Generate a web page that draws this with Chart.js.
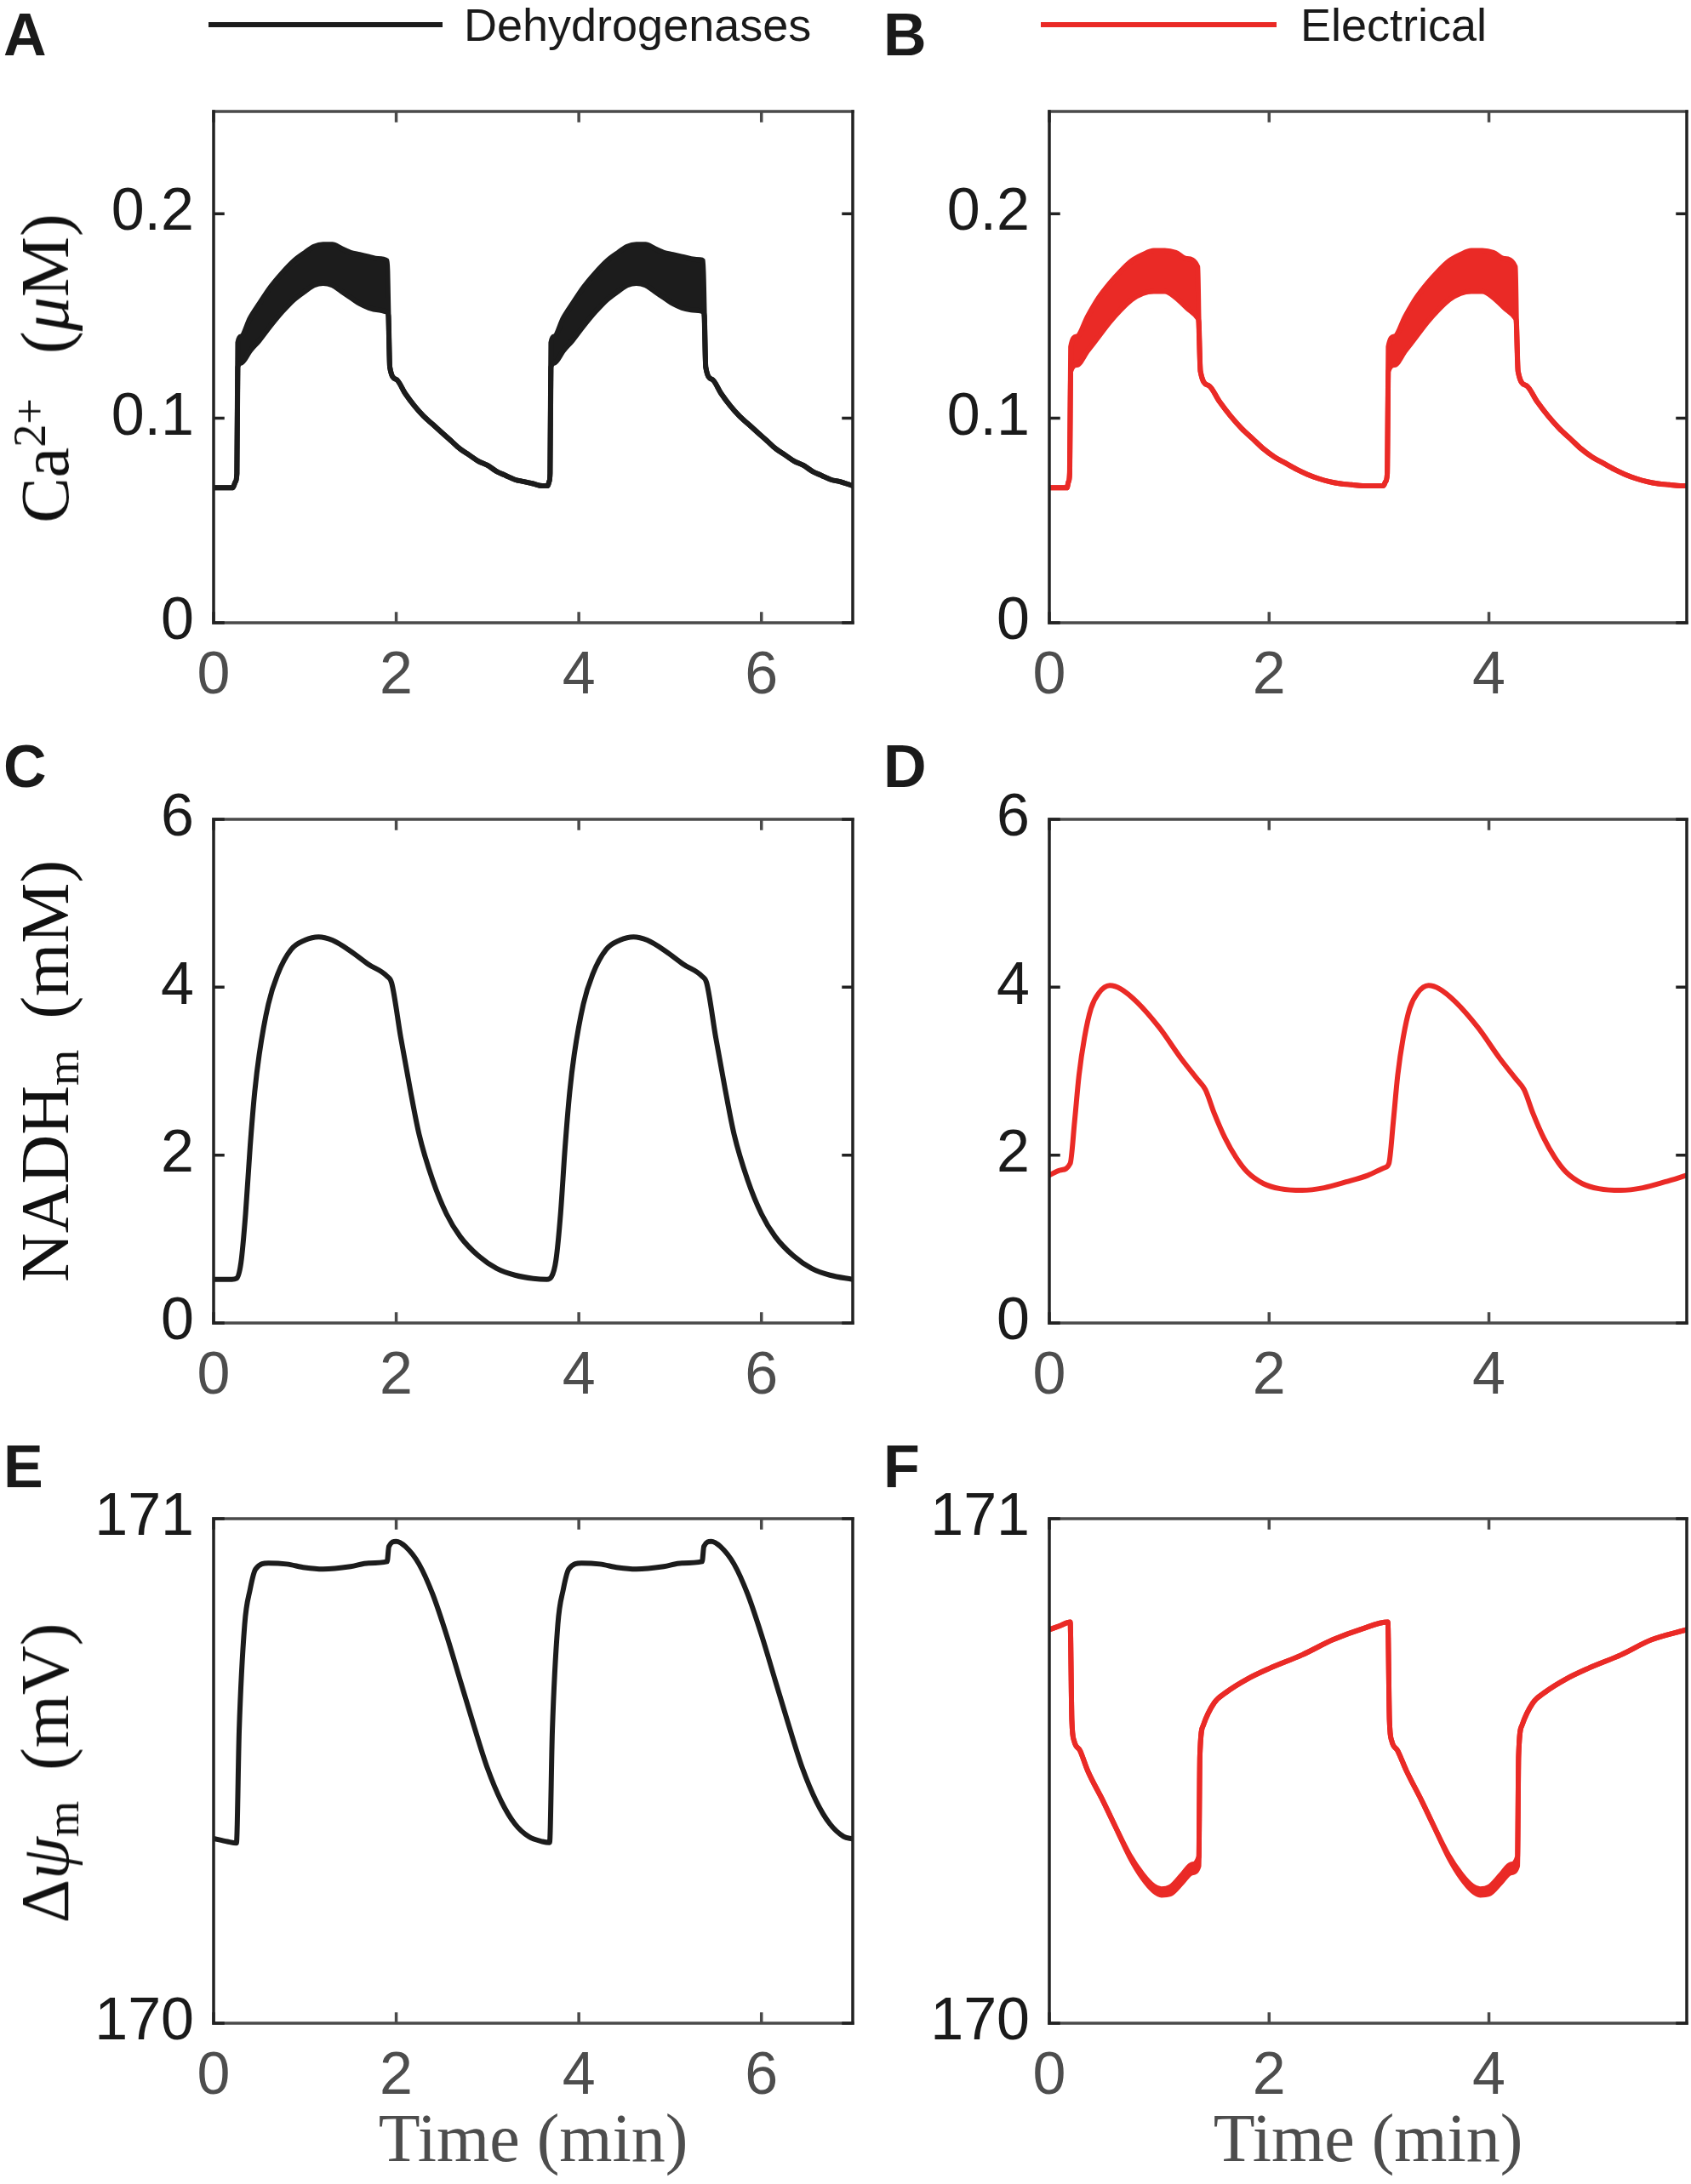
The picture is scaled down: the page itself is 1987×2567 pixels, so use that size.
<!DOCTYPE html>
<html>
<head>
<meta charset="utf-8">
<script src="https://cdn.jsdelivr.net/npm/chart.js@4.4.1/dist/chart.umd.min.js"></script>
<style>
  body { margin: 0; background: #fff; width: 1987px; height: 2567px; position: relative; overflow: hidden; }
  canvas { position: absolute; }
  .letter { position: absolute; font: bold 70px 'Liberation Sans', Arial, sans-serif; line-height: 1; color: #1a1a1a; }
  .ylab { position: absolute; font: 80px 'Liberation Serif', 'Times New Roman', serif; line-height: 1; color: #111;
          white-space: nowrap; transform: translate(-50%, -50%) rotate(-90deg); }
  .ylab .sup { font-size: 0.68em; position: relative; top: -0.5em; }
  .ylab .sub { font-size: 0.68em; position: relative; top: 0.22em; }
  .ylab .gap { display: inline-block; width: 0.45em; }
  .ylab .gap2 { display: inline-block; width: 0.65em; }
  .leg-line { position: absolute; height: 6px; }
  .leg-text { position: absolute; font: 54px 'Liberation Sans', Arial, sans-serif; line-height: 1; color: #1a1a1a; white-space: nowrap; }
</style>
</head>
<body>
<canvas id="pA"></canvas>
<canvas id="pB"></canvas>
<canvas id="pC"></canvas>
<canvas id="pD"></canvas>
<canvas id="pE"></canvas>
<canvas id="pF"></canvas>

<div class="leg-line" style="left:245px; top:26px; width:275px; background:#1c1c1c;"></div>
<div class="leg-text" style="left:545px; top:2px;">Dehydrogenases</div>
<div class="leg-line" style="left:1223px; top:26px; width:277px; background:#ea2a26;"></div>
<div class="leg-text" style="left:1528px; top:2px;">Electrical</div>

<div class="letter" style="left:4px; top:6px;">A</div>
<div class="letter" style="left:1038px; top:6px;">B</div>
<div class="letter" style="left:4px; top:866px;">C</div>
<div class="letter" style="left:1038px; top:866px;">D</div>
<div class="letter" style="left:4px; top:1689px;">E</div>
<div class="letter" style="left:1038px; top:1689px;">F</div>

<div class="ylab" style="left:53px; top:433px;">Ca<span class="sup">2+</span><span class="gap2"></span>(<i>μ</i>M)</div>
<div class="ylab" style="left:53px; top:1259px;">NADH<span class="sub">m</span><span class="gap"></span>(mM)</div>
<div class="ylab" style="left:53px; top:2084px;">Δ<i>ψ</i><span class="sub">m</span><span class="gap"></span>(mV)</div>

<script>
// ---- data (time in min) ----
const xTicksDeh = [0, 2, 4, 6];
const xTicksElec = [0, 2, 4];
const caTicks = [0, 0.1, 0.2];
const nadhTicks = [0, 2, 4, 6];
const psiTicks = [170, 171];

// Ca2+, dehydrogenases: lower / upper envelope of the fast oscillations
const caDehTime = [0, 0.1, 0.21, 0.24, 0.255, 0.265, 0.3, 0.4, 0.5, 0.62, 0.75, 0.88,
  1.0, 1.1, 1.2, 1.3, 1.4, 1.5, 1.6, 1.7, 1.8, 1.9, 1.915, 1.93,
  2.0, 2.1, 2.2, 2.3, 2.4, 2.5, 2.6, 2.7, 2.8, 2.9, 3.0, 3.1, 3.2, 3.3, 3.4, 3.5, 3.6,
  3.66, 3.675, 3.685, 3.695, 3.73, 3.83, 3.93, 4.05, 4.18, 4.31,
  4.43, 4.53, 4.63, 4.73, 4.83, 4.93, 5.03, 5.13, 5.23, 5.33, 5.36, 5.375, 5.39,
  5.46, 5.56, 5.66, 5.76, 5.86, 5.96, 6.06, 6.16, 6.26, 6.36, 6.46, 6.56, 6.66, 6.76, 6.86, 7.0];
const caDehLow = [0.066, 0.066, 0.066, 0.069, 0.073, 0.125, 0.127, 0.133, 0.138, 0.145, 0.152, 0.158,
  0.162, 0.165, 0.166, 0.165, 0.162, 0.159, 0.156, 0.154, 0.153, 0.152, 0.150, 0.125,
  0.119, 0.112, 0.106, 0.101, 0.097, 0.093, 0.089, 0.085, 0.082, 0.079, 0.077, 0.074, 0.072, 0.070, 0.069, 0.068, 0.067,
  0.067, 0.069, 0.073, 0.125, 0.127, 0.133, 0.138, 0.145, 0.152, 0.158,
  0.162, 0.165, 0.166, 0.165, 0.162, 0.159, 0.156, 0.154, 0.153, 0.1525, 0.152, 0.150, 0.125,
  0.119, 0.112, 0.106, 0.101, 0.097, 0.093, 0.089, 0.085, 0.082, 0.079, 0.077, 0.074, 0.072, 0.070, 0.069, 0.067];
const caDehHigh = [0.066, 0.066, 0.066, 0.069, 0.073, 0.137, 0.140, 0.149, 0.156, 0.164, 0.171, 0.177,
  0.181, 0.184, 0.185, 0.185, 0.183, 0.181, 0.180, 0.179, 0.178, 0.177, 0.150, 0.125,
  0.119, 0.112, 0.106, 0.101, 0.097, 0.093, 0.089, 0.085, 0.082, 0.079, 0.077, 0.074, 0.072, 0.070, 0.069, 0.068, 0.067,
  0.067, 0.069, 0.073, 0.137, 0.140, 0.149, 0.156, 0.164, 0.171, 0.177,
  0.181, 0.184, 0.185, 0.185, 0.183, 0.181, 0.180, 0.179, 0.178, 0.1775, 0.177, 0.150, 0.125,
  0.119, 0.112, 0.106, 0.101, 0.097, 0.093, 0.089, 0.085, 0.082, 0.079, 0.077, 0.074, 0.072, 0.070, 0.069, 0.067];

// Ca2+, electrical
const caElecTime = [0, 0.1, 0.16, 0.175, 0.185, 0.195,
  0.25, 0.35, 0.45, 0.55, 0.65, 0.75, 0.85, 0.95, 1.05, 1.15, 1.25, 1.35, 1.36, 1.375,
  1.45, 1.55, 1.65, 1.75, 1.85, 1.95, 2.05, 2.15, 2.25, 2.35, 2.45, 2.55, 2.65, 2.75, 2.85, 2.95,
  3.04, 3.06, 3.075, 3.085,
  3.14, 3.24, 3.34, 3.44, 3.54, 3.64, 3.74, 3.84, 3.94, 4.04, 4.14, 4.24, 4.25, 4.265,
  4.34, 4.44, 4.54, 4.64, 4.74, 4.84, 4.94, 5.04, 5.14, 5.24, 5.34, 5.44, 5.54, 5.64, 5.74, 5.8];
const caElecLow = [0.066, 0.066, 0.066, 0.069, 0.073, 0.123,
  0.126, 0.133, 0.140, 0.147, 0.153, 0.158, 0.161, 0.162, 0.162, 0.159, 0.154, 0.149, 0.147, 0.123,
  0.116, 0.108, 0.101, 0.095, 0.090, 0.085, 0.081, 0.078, 0.075, 0.0725, 0.0705, 0.069, 0.068, 0.0675, 0.067, 0.067,
  0.067, 0.069, 0.073, 0.123,
  0.126, 0.133, 0.140, 0.147, 0.153, 0.158, 0.161, 0.162, 0.162, 0.159, 0.154, 0.149, 0.147, 0.123,
  0.116, 0.108, 0.101, 0.095, 0.090, 0.085, 0.081, 0.078, 0.075, 0.0725, 0.0705, 0.069, 0.068, 0.0675, 0.067, 0.067];
const caElecHigh = [0.066, 0.066, 0.066, 0.069, 0.073, 0.135,
  0.140, 0.150, 0.159, 0.166, 0.172, 0.177, 0.180, 0.182, 0.182, 0.181, 0.178, 0.174, 0.147, 0.123,
  0.116, 0.108, 0.101, 0.095, 0.090, 0.085, 0.081, 0.078, 0.075, 0.0725, 0.0705, 0.069, 0.068, 0.0675, 0.067, 0.067,
  0.067, 0.069, 0.073, 0.135,
  0.140, 0.150, 0.159, 0.166, 0.172, 0.177, 0.180, 0.182, 0.182, 0.181, 0.178, 0.174, 0.147, 0.123,
  0.116, 0.108, 0.101, 0.095, 0.090, 0.085, 0.081, 0.078, 0.075, 0.0725, 0.0705, 0.069, 0.068, 0.0675, 0.067, 0.067];

// NADH_m (mM)
const nadhDehTime = [0, 0.2, 0.25, 0.3, 0.35, 0.4, 0.45, 0.5, 0.6, 0.7,
  0.85, 1.0, 1.15, 1.3, 1.5, 1.7, 1.9, 1.95, 2.05, 2.15,
  2.25, 2.4, 2.55, 2.7, 2.9, 3.1, 3.3, 3.5, 3.65, 3.7,
  3.75, 3.8, 3.85, 3.9, 3.95, 4.05, 4.15, 4.3, 4.45, 4.6,
  4.75, 4.95, 5.15, 5.35, 5.4, 5.5, 5.6, 5.7, 5.85, 6.0,
  6.15, 6.35, 6.55, 6.75, 7.0];
const nadhDehVal = [0.52, 0.52, 0.53, 0.72, 1.3, 2.1, 2.75, 3.2, 3.8, 4.15,
  4.45, 4.56, 4.6, 4.56, 4.43, 4.27, 4.13, 4.05, 3.4, 2.8,
  2.25, 1.7, 1.3, 1.03, 0.8, 0.65, 0.57, 0.53, 0.52, 0.55,
  0.75, 1.3, 2.1, 2.75, 3.2, 3.8, 4.15, 4.45, 4.56, 4.6,
  4.56, 4.43, 4.27, 4.13, 4.05, 3.4, 2.8, 2.25, 1.7, 1.3,
  1.03, 0.8, 0.65, 0.57, 0.52];
const nadhElecTime = [0, 0.1, 0.19, 0.23, 0.27, 0.32, 0.38, 0.45, 0.55, 0.65,
  0.8, 1.0, 1.2, 1.35, 1.42, 1.5, 1.6, 1.7, 1.8, 1.95,
  2.1, 2.3, 2.5, 2.7, 2.9, 3.05, 3.09, 3.13, 3.17, 3.22,
  3.28, 3.35, 3.45, 3.55, 3.7, 3.9, 4.1, 4.25, 4.32, 4.4,
  4.5, 4.6, 4.7, 4.85, 5.0, 5.2, 5.4, 5.6, 5.8];
const nadhElecVal = [1.76, 1.82, 1.9, 2.4, 2.95, 3.4, 3.75, 3.93, 4.02, 3.98,
  3.82, 3.52, 3.15, 2.9, 2.78, 2.5, 2.2, 1.97, 1.8, 1.66,
  1.6, 1.58, 1.61, 1.68, 1.76, 1.85, 1.9, 2.4, 2.95, 3.4,
  3.75, 3.93, 4.02, 3.98, 3.82, 3.52, 3.15, 2.9, 2.78, 2.5,
  2.2, 1.97, 1.8, 1.66, 1.6, 1.58, 1.61, 1.68, 1.76];

// delta psi_m (mV)
const psiDehTime = [0, 0.15, 0.25, 0.28, 0.34, 0.4, 0.46, 0.6, 0.8, 1.0,
  1.2, 1.5, 1.7, 1.9, 1.92, 2.0, 2.1, 2.25, 2.4, 2.55,
  2.7, 2.85, 3.0, 3.15, 3.3, 3.45, 3.6, 3.68, 3.71, 3.77,
  3.83, 3.89, 4.03, 4.23, 4.43, 4.63, 4.93, 5.13, 5.35, 5.37,
  5.45, 5.55, 5.7, 5.85, 6.0, 6.15, 6.3, 6.45, 6.6, 6.75,
  6.9, 7.0];
const psiDehVal = [170.366, 170.36, 170.357, 170.58, 170.79, 170.86, 170.9, 170.912, 170.91, 170.903,
  170.9, 170.905, 170.912, 170.915, 170.945, 170.955, 170.945, 170.91, 170.85, 170.77,
  170.68, 170.59, 170.505, 170.44, 170.395, 170.37, 170.36, 170.358, 170.58, 170.79,
  170.86, 170.9, 170.912, 170.91, 170.903, 170.9, 170.905, 170.912, 170.915, 170.945,
  170.955, 170.945, 170.91, 170.85, 170.77, 170.68, 170.59, 170.505, 170.44, 170.395,
  170.37, 170.365];
// electrical: upper edge and lower edge (the trace thickens near the minimum)
const psiElecTime = [0, 0.1, 0.19, 0.205, 0.225, 0.28, 0.35, 0.49, 0.6, 0.73,
  0.85, 0.95, 1.02, 1.1, 1.21, 1.3, 1.36, 1.37, 1.4, 1.5,
  1.61, 1.8, 2.0, 2.3, 2.58, 2.85, 3.08, 3.095, 3.115, 3.17,
  3.25, 3.39, 3.5, 3.63, 3.75, 3.85, 3.92, 4.0, 4.11, 4.2,
  4.26, 4.27, 4.3, 4.4, 4.51, 4.7, 4.9, 5.2, 5.48, 5.8];
const psiElecHigh = [170.78, 170.788, 170.795, 170.6, 170.56, 170.54, 170.5, 170.44, 170.39, 170.334,
  170.295, 170.272, 170.266, 170.27, 170.295, 170.315, 170.33, 170.53, 170.59, 170.635,
  170.656, 170.682, 170.703, 170.73, 170.76, 170.782, 170.795, 170.6, 170.56, 170.54,
  170.5, 170.44, 170.39, 170.334, 170.295, 170.272, 170.266, 170.27, 170.295, 170.315,
  170.33, 170.53, 170.59, 170.635, 170.656, 170.682, 170.703, 170.73, 170.76, 170.78];
const psiElecLow = [170.78, 170.788, 170.795, 170.6, 170.56, 170.54, 170.5, 170.44, 170.39, 170.330,
  170.287, 170.262, 170.254, 170.256, 170.279, 170.298, 170.312, 170.53, 170.59, 170.635,
  170.656, 170.682, 170.703, 170.73, 170.76, 170.782, 170.795, 170.6, 170.56, 170.54,
  170.5, 170.44, 170.39, 170.330, 170.287, 170.262, 170.254, 170.256, 170.279, 170.298,
  170.312, 170.53, 170.59, 170.635, 170.656, 170.682, 170.703, 170.73, 170.76, 170.78];

// ---- drawing ----
const BLACK = '#1c1c1c';
const RED = '#ea2a26';
const Y_AXIS_W = 200;
const PAD_TOP = 75;

Chart.defaults.font.family = "'Liberation Sans', Arial, Helvetica, sans-serif";

// matlab-like box with inward ticks on all four sides
const boxPlugin = {
  id: 'box',
  afterDraw(chart) {
    const { ctx, chartArea: a, scales: { x, y } } = chart;
    const tl = 11;
    ctx.save();
    ctx.lineCap = 'square';
    ctx.lineWidth = 3.5;
    ctx.strokeStyle = '#4a4a4a';
    ctx.beginPath();
    ctx.moveTo(a.left, a.top); ctx.lineTo(a.right, a.top);
    ctx.moveTo(a.left, a.bottom); ctx.lineTo(a.right, a.bottom);
    x.ticks.forEach(t => {
      const px = x.getPixelForValue(t.value);
      ctx.moveTo(px, a.bottom); ctx.lineTo(px, a.bottom - tl);
      ctx.moveTo(px, a.top); ctx.lineTo(px, a.top + tl);
    });
    ctx.stroke();
    ctx.strokeStyle = '#222';
    ctx.beginPath();
    ctx.moveTo(a.left, a.top); ctx.lineTo(a.left, a.bottom);
    ctx.moveTo(a.right, a.top); ctx.lineTo(a.right, a.bottom);
    y.ticks.forEach(t => {
      const py = y.getPixelForValue(t.value);
      ctx.moveTo(a.left, py); ctx.lineTo(a.left + tl, py);
      ctx.moveTo(a.right, py); ctx.lineTo(a.right - tl, py);
    });
    ctx.stroke();
    ctx.restore();
  }
};

function lineDs(ts, vs, color, fill) {
  return {
    data: ts.map((t, i) => ({ x: t, y: vs[i] })),
    borderColor: color,
    backgroundColor: color,
    borderWidth: 6,
    pointRadius: 0,
    fill: fill || false,
    cubicInterpolationMode: 'monotone',
    borderJoinStyle: 'round',
    borderCapStyle: 'round'
  };
}

function makePanel(o) {
  const canvas = document.getElementById(o.id);
  canvas.width = Y_AXIS_W + o.plotW + o.padRight;
  canvas.height = PAD_TOP + o.plotH + o.xAxisH;
  canvas.style.left = (o.plotLeft - Y_AXIS_W) + 'px';
  canvas.style.top = (o.plotTop - PAD_TOP) + 'px';

  new Chart(canvas.getContext('2d'), {
    type: 'line',
    data: { datasets: o.datasets },
    options: {
      responsive: false,
      devicePixelRatio: 1,
      animation: false,
      layout: { padding: { top: PAD_TOP, right: o.padRight, left: 0, bottom: 0 } },
      plugins: { legend: { display: false }, tooltip: { enabled: false } },
      scales: {
        x: {
          type: 'linear', min: 0, max: o.xMax,
          grid: { display: false, drawTicks: false },
          border: { display: false },
          afterBuildTicks: ax => { ax.ticks = o.xTicks.map(v => ({ value: v })); },
          afterFit: ax => { ax.height = o.xAxisH; },
          ticks: { autoSkip: false, maxRotation: 0, padding: 22, color: '#4d4d4d',
                   font: { size: 70 }, callback: v => String(v) },
          title: { display: !!o.xTitle, text: o.xTitle || '', color: '#4d4d4d', padding: 0,
                   font: { family: "'Liberation Serif', 'Times New Roman', serif", size: 80 } }
        },
        y: {
          type: 'linear', min: o.yMin, max: o.yMax,
          grid: { display: false, drawTicks: false },
          border: { display: false },
          afterBuildTicks: ax => { ax.ticks = o.yTicks.map(v => ({ value: v })); },
          afterFit: ax => { ax.width = Y_AXIS_W; },
          ticks: { autoSkip: false, padding: 23, color: '#1a1a1a',
                   font: { size: 70 }, callback: v => String(v) }
        }
      }
    },
    plugins: [boxPlugin]
  });
}

const LEFT = { plotLeft: 251, plotW: 751, padRight: 30, xMax: 7, xTicks: xTicksDeh };
const RIGHT = { plotLeft: 1233, plotW: 749, padRight: 5, xMax: 5.8, xTicks: xTicksElec };
const ROW1 = { plotTop: 131, plotH: 601, xAxisH: 110 };
const ROW2 = { plotTop: 963, plotH: 592, xAxisH: 110 };
const ROW3 = { plotTop: 1785, plotH: 593, xAxisH: 189, xTitle: 'Time (min)' };

makePanel(Object.assign({ id: 'pA', yMin: 0, yMax: 0.25, yTicks: caTicks,
  datasets: [lineDs(caDehTime, caDehLow, BLACK), lineDs(caDehTime, caDehHigh, BLACK, '-1')] }, LEFT, ROW1));
makePanel(Object.assign({ id: 'pB', yMin: 0, yMax: 0.25, yTicks: caTicks,
  datasets: [lineDs(caElecTime, caElecLow, RED), lineDs(caElecTime, caElecHigh, RED, '-1')] }, RIGHT, ROW1));
makePanel(Object.assign({ id: 'pC', yMin: 0, yMax: 6, yTicks: nadhTicks,
  datasets: [lineDs(nadhDehTime, nadhDehVal, BLACK)] }, LEFT, ROW2));
makePanel(Object.assign({ id: 'pD', yMin: 0, yMax: 6, yTicks: nadhTicks,
  datasets: [lineDs(nadhElecTime, nadhElecVal, RED)] }, RIGHT, ROW2));
makePanel(Object.assign({ id: 'pE', yMin: 170, yMax: 171, yTicks: psiTicks,
  datasets: [lineDs(psiDehTime, psiDehVal, BLACK)] }, LEFT, ROW3));
makePanel(Object.assign({ id: 'pF', yMin: 170, yMax: 171, yTicks: psiTicks,
  datasets: [lineDs(psiElecTime, psiElecLow, RED), lineDs(psiElecTime, psiElecHigh, RED, '-1')] }, RIGHT, ROW3));
</script>
</body>
</html>
